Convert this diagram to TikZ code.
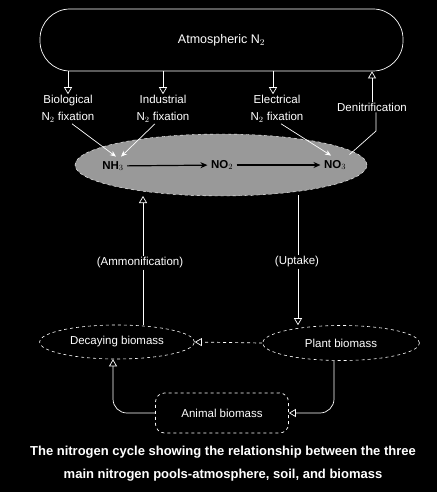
\documentclass[tikz,border=0pt]{standalone}
\usepackage{fontspec}
\setmainfont{Liberation Sans}
\usetikzlibrary{arrows.meta,shapes.geometric,calc}
\begin{document}
\begin{tikzpicture}[x=1pt,y=-1pt,
  every node/.style={text=white,font=\fontsize{11.5}{17}\selectfont},
  line/.style={draw=white,line width=0.7pt},
  arr/.style={line,-{Triangle[open,length=7pt,width=8pt]}},
  darr/.style={draw=black,line width=1.2pt,-{Stealth[length=7pt,width=6pt]}},
  bubble/.style={ellipse,draw=white,dashed,line width=0.6pt},
  lbl/.style={align=center,inner sep=1pt},
  chem/.style={text=black,font=\bfseries\fontsize{11.5}{13}\selectfont}]
\fill[black] (0,0) rectangle (437,492);
\useasboundingbox (0,0) rectangle (437,492);
% atmosphere
\node[draw=white,line width=0.7pt,rounded corners=30pt,minimum width=363pt,minimum height=62pt,font=\fontsize{12.5}{15}\selectfont] (atm) at (221.5,40) {Atmospheric N$_2$};
% labels
\node[lbl] (bio) at (68,109) {Biological\\N$_2$ fixation};
\node[lbl] (ind) at (163,109) {Industrial\\N$_2$ fixation};
\node[lbl] (ele) at (277,109) {Electrical\\N$_2$ fixation};
\node[lbl] (den) at (372,107) {Denitrification};
% soil
\node[ellipse,draw=white,dashed,fill=gray!80,minimum width=292pt,minimum height=62pt] (soil) at (221,165) {};
\node[chem] (nh3) at (113,166) {NH$_3$};
\node[chem] (no2) at (222,165) {NO$_2$};
\node[chem] (no3) at (335,165) {NO$_3$};
\draw[darr] (nh3) -- (no2);
\draw[darr] (no2) -- (no3);
% atmosphere arrows
\draw[arr] (atm.south -| bio) -- (bio.north);
\draw[arr] (atm.south -| ind) -- (ind.north);
\draw[arr] ($(atm.south -| ele)+(-4,0)$) -- ($(ele.north)+(-4,0)$);
\draw[arr] (den.north) -- (den.north |- atm.south);
% fixation lines into the soil
\draw[line,-{Stealth[length=6pt,width=5pt]}] ($(bio.south)+(4,0)$) -- ($(nh3.north)+(3,-1)$);
\draw[line,-{Stealth[length=6pt,width=5pt]}] ($(ind.south)+(-8,0)$) -- ($(nh3.north)+(8,-1)$);
\draw[line,-{Stealth[length=6pt,width=5pt]}] ($(ele.south)+(4,0)$) -- ($(no3.north)+(-4,-1)$);
\coordinate (dk) at (376,131);
\draw[line] ($(no3.north east)+(0,-2)$) -- (dk) -- (den.south -| dk);
% soil <-> biomass
\node[lbl] (amm) at (140,263) {(Ammonification)};
\node[lbl] (upt) at (297,262) {(Uptake)};
\node[bubble,minimum width=155pt,minimum height=34pt] (dec) at (117,342) {Decaying biomass};
\node[bubble,minimum width=157pt,minimum height=35pt] (plant) at (341,343) {Plant biomass};
\coordinate (sb1) at (143,196);
\coordinate (sb2) at (298,195);
\draw[arr] (amm.north -| sb1) -- (sb1);
\draw[line] (amm.south -| sb1) -- (sb1 |- dec.north);
\draw[line] (sb2) -- (upt.north -| sb2);
\draw[arr] (upt.south -| sb2) -- (sb2 |- plant.north);
\draw[arr,dashed] (plant.west) -- (dec.east);
% animal biomass
\node[draw=white,line width=0.7pt,dashed,rounded corners=9pt,minimum width=133pt,minimum height=40pt] (ani) at (222,413) {Animal biomass};
\draw[arr,rounded corners=14pt] ($(plant.south)+(-7,0)$) |- (ani.east);
\draw[arr,rounded corners=14pt,{Triangle[open,length=7pt,width=8pt]}-] ($(dec.south)+(-4,0)$) |- (ani.west);
% caption
\node[font=\bfseries\fontsize{13}{15}\selectfont] (cap1) at (223,452) {The nitrogen cycle showing the relationship between the three};
\node[font=\bfseries\fontsize{13}{15}\selectfont] (cap2) at (223,475) {main nitrogen pools-atmosphere, soil, and biomass};
\end{tikzpicture}
\end{document}
